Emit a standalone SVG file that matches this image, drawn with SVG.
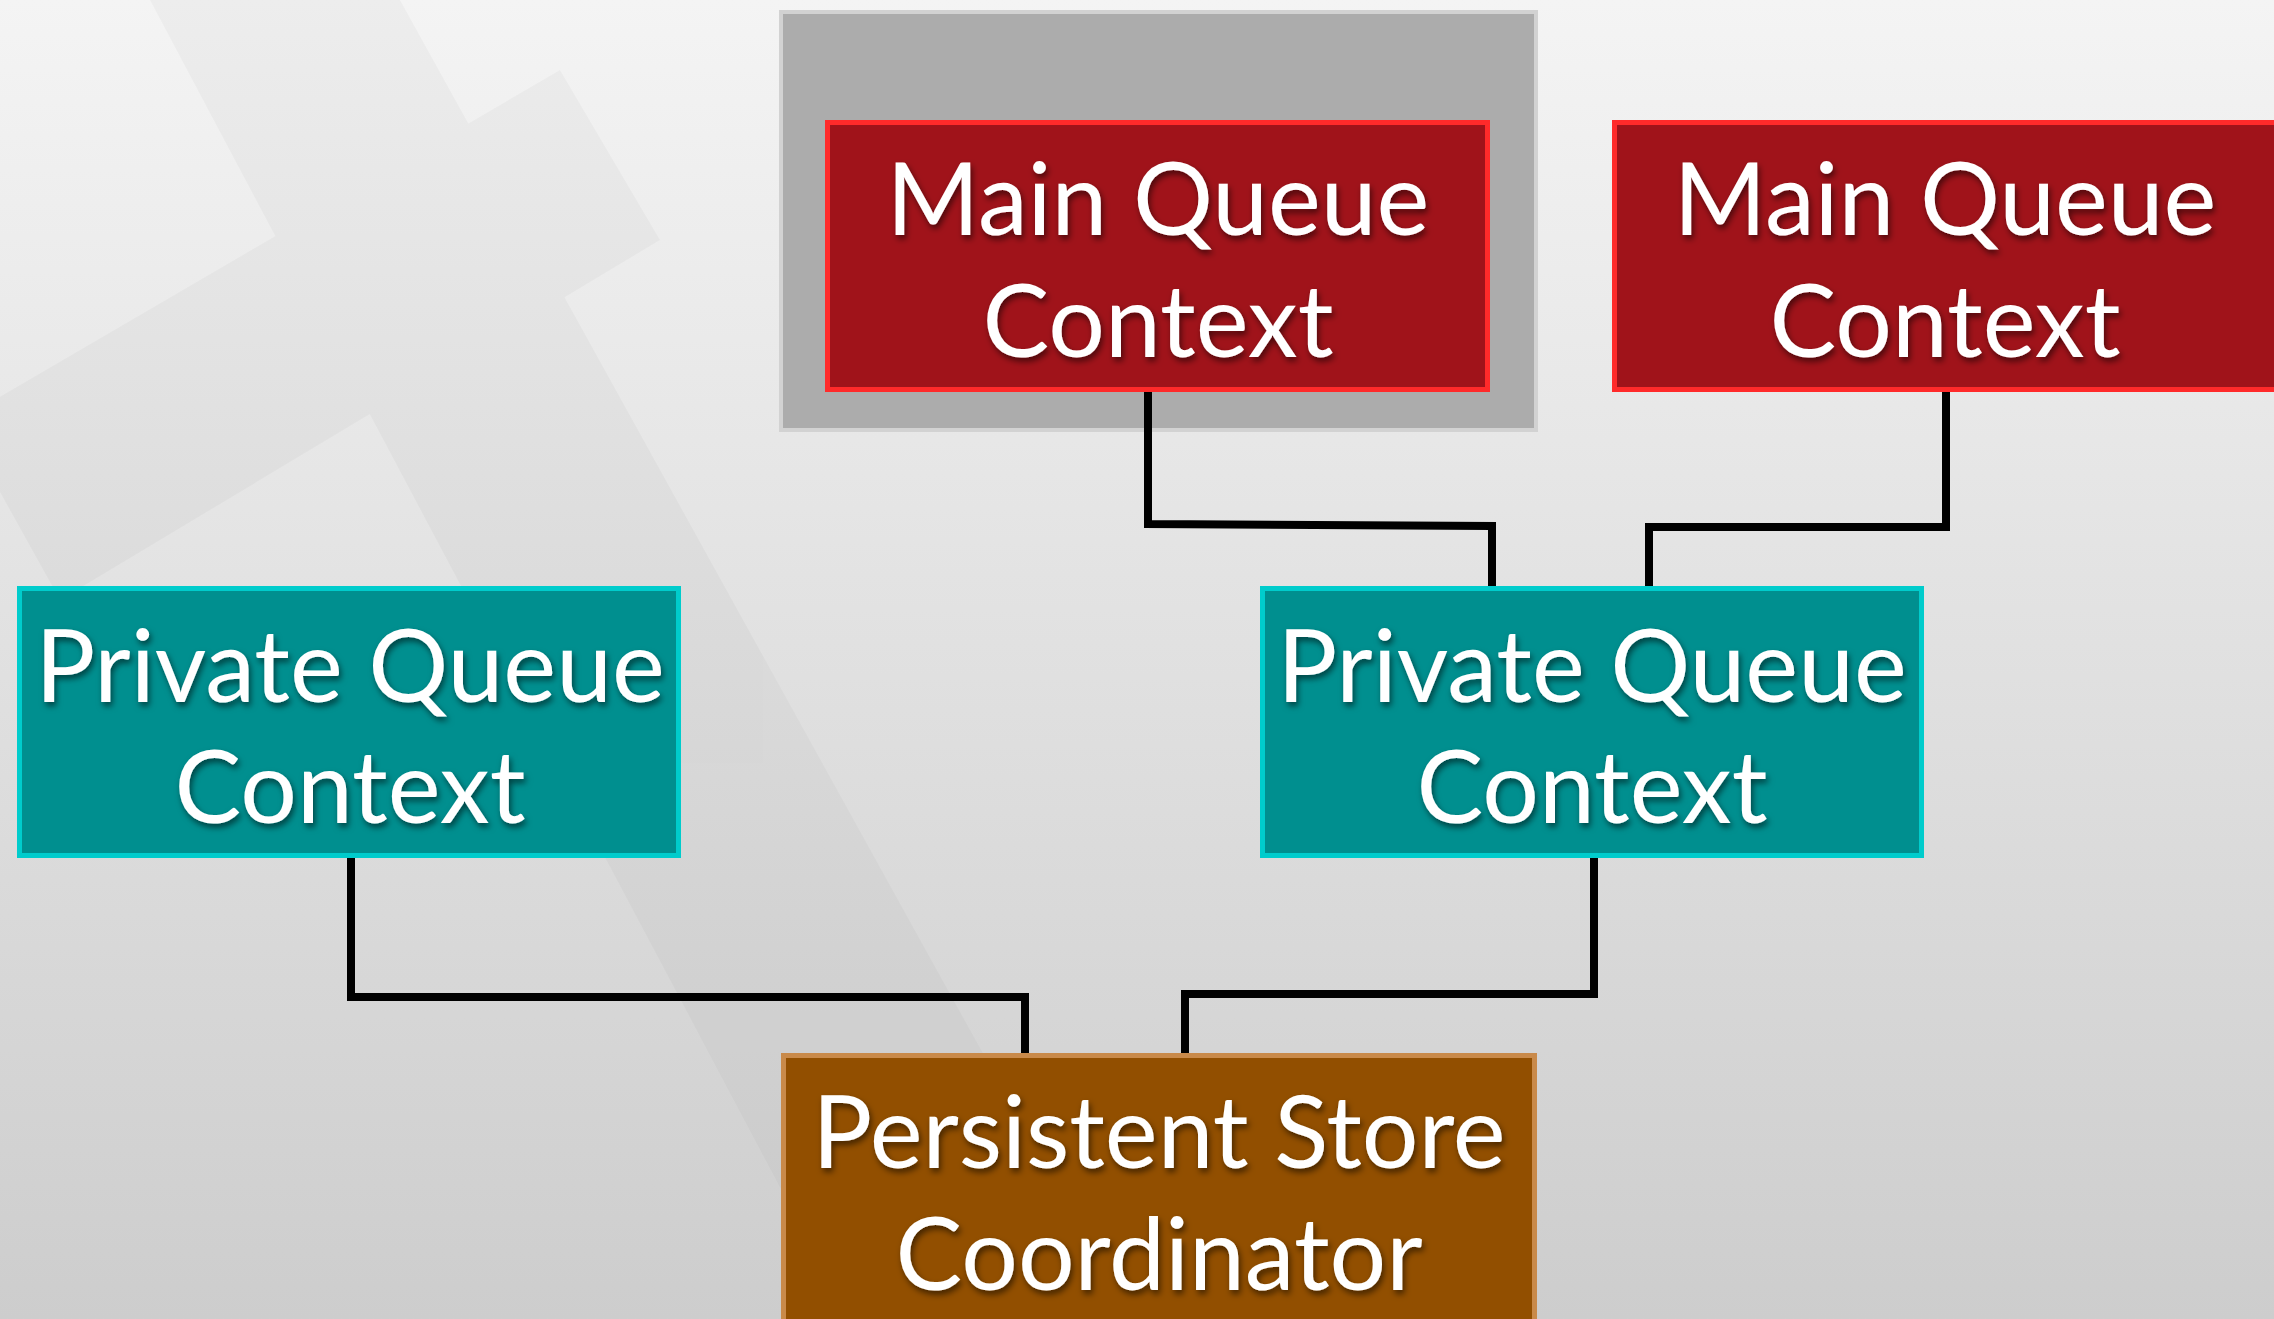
<svg xmlns="http://www.w3.org/2000/svg" width="2274" height="1319" viewBox="0 0 2274 1319">
  <defs>
    <linearGradient id="bg" x1="0" y1="0" x2="0" y2="1">
      <stop offset="0" stop-color="#f4f4f4"/>
      <stop offset="1" stop-color="#cdcdcd"/>
    </linearGradient>
    <filter id="ts" x="-10%" y="-30%" width="120%" height="160%">
      <feDropShadow dx="2" dy="4" stdDeviation="3" flood-color="#000" flood-opacity="0.55"/>
    </filter>
    <style>
      .lbl { font-family: Lato, "Open Sans", "Liberation Sans", sans-serif; font-size: 100px; fill: #ffffff; text-anchor: middle; filter: url(#ts); }
      .red { fill: #a0131a; stroke: #ff2a2a; stroke-width: 5; }
      .teal { fill: #008f8f; stroke: #00cccc; stroke-width: 5; }
      .orange { fill: #924f00; stroke: #c98a4a; stroke-width: 5; }
      .conn { fill: none; stroke: #000; stroke-width: 8; stroke-linejoin: miter; }
      .strip { fill: #000; opacity: 0.025; }
    </style>
  </defs>
  <rect width="2274" height="1319" fill="url(#bg)"/>
  <!-- faint film-strip watermark -->
  <g class="strip">
    <polygon points="150,0 400,0 1130,1319 850,1319"/>
    <polygon points="-40,420 560,70 660,240 60,600"/>
  </g>

  <g id="gray-frame">
    <rect x="781" y="12" width="755" height="418" fill="#acacac" stroke="#d2d2d2" stroke-width="4"/>
  </g>

  <g id="connectors">
    <polyline class="conn" points="1148,392 1148,524 1492,526 1492,587"/>
    <polyline class="conn" points="1946,392 1946,527 1649,527 1649,587"/>
    <polyline class="conn" points="351,858 351,997 1025,997 1025,1054"/>
    <polyline class="conn" points="1594,858 1594,994 1185,994 1185,1054"/>
  </g>

  <g id="main-queue-1">
    <rect class="red" x="827.5" y="122.5" width="660" height="267"/>
    <text class="lbl" x="1158" y="235">Main Queue</text>
    <text class="lbl" x="1158" y="357">Context</text>
  </g>

  <g id="main-queue-2">
    <rect class="red" x="1614.5" y="122.5" width="662" height="267"/>
    <text class="lbl" x="1945" y="235">Main Queue</text>
    <text class="lbl" x="1945" y="357">Context</text>
  </g>

  <g id="private-queue-1">
    <rect class="teal" x="19.5" y="588.5" width="659" height="267"/>
    <text class="lbl" x="350" y="702">Private Queue</text>
    <text class="lbl" x="350" y="823">Context</text>
  </g>

  <g id="private-queue-2">
    <rect class="teal" x="1262.5" y="588.5" width="659" height="267"/>
    <text class="lbl" x="1592" y="702">Private Queue</text>
    <text class="lbl" x="1592" y="823">Context</text>
  </g>

  <g id="persistent-store-coordinator">
    <rect class="orange" x="783.5" y="1055.5" width="751" height="280"/>
    <text class="lbl" x="1159" y="1168">Persistent Store</text>
    <text class="lbl" x="1159" y="1290">Coordinator</text>
  </g>
</svg>
